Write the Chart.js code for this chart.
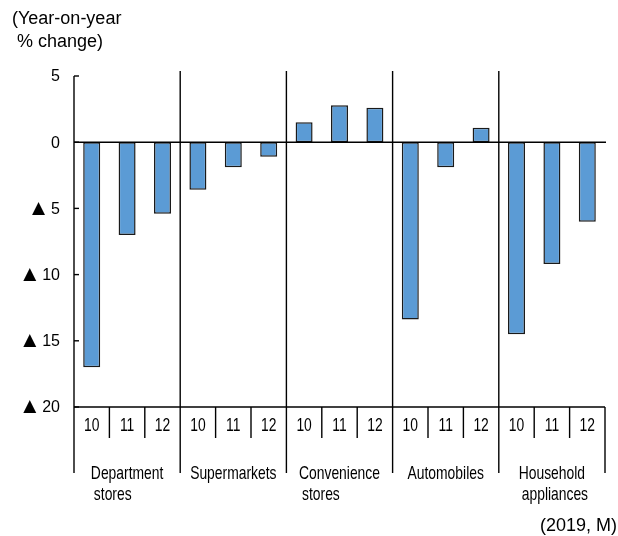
<!DOCTYPE html>
<html>
<head>
<meta charset="utf-8">
<script src="https://cdn.jsdelivr.net/npm/chart.js@4/dist/chart.umd.min.js"></script>
<style>
  html, body { margin: 0; padding: 0; background: #fff; }
  canvas { display: block; }
</style>
</head>
<body>
<canvas id="c" width="618" height="536"></canvas>
<script>
// Sales categories, each shown for three months of 2019
const categories = [['Department', 'stores'], ['Supermarkets'], ['Convenience', 'stores'], ['Automobiles'], ['Household', 'appliances']];
const months = ['10', '11', '12'];

// Year-on-year % change, three months per category
const departmentStores = [-17.0, -7.0, -5.4];
const supermarkets = [-3.6, -1.9, -1.1];
const convenienceStores = [1.5, 2.8, 2.6];
const automobiles = [-13.4, -1.9, 1.1];
const householdAppliances = [-14.5, -9.2, -6.0];

// Value axis ticks; negatives are written with a triangle mark
const yTickValues = [5, 0, -5, -10, -15, -20];
const yTickNumbers = ['5', '0', '5', '10', '15', '20'];
const NEG_MARK = '▲';

const axisTitle = ['(Year-on-year', ' % change)'];
const periodNote = '(2019, M)';

const seriesByCategory = [departmentStores, supermarkets, convenienceStores, automobiles, householdAppliances];
const labels = [];
const values = [];
seriesByCategory.forEach(s => s.forEach((v, i) => { labels.push(months[i]); values.push(v); }));

const REG = '"Liberation Sans", Arial, "DejaVu Sans", sans-serif';
const SQUEEZE = 0.73; // horizontal compression for the condensed category text

// draw text compressed horizontally, anchored like textAlign
function condensedText(ctx, t, px, py, align) {
  const w = ctx.measureText(t).width * SQUEEZE;
  let x0 = px;
  if (align === 'center') x0 = px - w / 2;
  else if (align === 'right') x0 = px - w;
  ctx.save();
  ctx.textAlign = 'left';
  ctx.translate(x0, py);
  ctx.scale(SQUEEZE, 1);
  ctx.fillText(t, 0, 0);
  ctx.restore();
}

const frame = {
  id: 'frame',
  afterDraw(chart) {
    const { ctx, chartArea: a, scales: { x, y } } = chart;
    const line = (x1, y1, x2, y2) => { ctx.beginPath(); ctx.moveTo(x1, y1); ctx.lineTo(x2, y2); ctx.stroke(); };
    ctx.save();
    ctx.strokeStyle = '#000';
    ctx.lineWidth = 1.4;
    ctx.fillStyle = '#000';

    const L = a.left, R = a.right;
    const T = y.getPixelForValue(5), B = y.getPixelForValue(-20), Z = y.getPixelForValue(0);

    // value axis with inward ticks
    line(L, T, L, B);
    ctx.textBaseline = 'middle';
    yTickValues.forEach((v, i) => {
      const py = y.getPixelForValue(v);
      line(L, py, L + 5, py);
      ctx.font = '16px ' + REG;
      ctx.textAlign = 'right';
      const numRight = L - 14;
      ctx.fillText(yTickNumbers[i], numRight, py + 1);
      if (v < 0) {
        const nw = ctx.measureText(yTickNumbers[i]).width;
        ctx.font = '17px "DejaVu Sans", sans-serif';
        ctx.fillText(NEG_MARK, numRight - nw - 6, py);
      }
    });

    // zero line and bottom line
    line(L, Z, R + 1, Z);
    line(L, B, R, B);

    // category boundaries and month ticks
    const step = x.getPixelForValue(1) - x.getPixelForValue(0);
    for (let i = 0; i <= labels.length; i++) {
      const px = i < labels.length ? x.getPixelForValue(i) - step / 2 : x.getPixelForValue(labels.length - 1) + step / 2;
      if (i % 3 === 0) {
        if (i > 0 && i < labels.length) line(px, T - 5, px, B);
        line(px, B, px, B + 66);
      } else {
        line(px, B, px, B + 31);
      }
    }

    // month labels
    ctx.font = '19px ' + REG;
    labels.forEach((m, i) => condensedText(ctx, m, x.getPixelForValue(i), B + 19, 'center'));

    // category labels, left-aligned block centred on the group
    categories.forEach((lines, g) => {
      const c = (x.getPixelForValue(g * 3) + x.getPixelForValue(g * 3 + 2)) / 2;
      const w = Math.max(...lines.map(t => ctx.measureText(t).width)) * SQUEEZE;
      lines.forEach((t, k) => condensedText(ctx, t, c - w / 2 + (k > 0 ? 3 : 0), B + 67 + k * 21, 'left'));
    });

    // period note
    ctx.font = '18px ' + REG;
    ctx.textAlign = 'right';
    ctx.fillText(periodNote, 617, 526);

    // axis title
    ctx.font = '18px ' + REG;
    ctx.textAlign = 'left';
    axisTitle.forEach((t, k) => ctx.fillText(t, 12, 19 + k * 23));
    ctx.restore();
  }
};

new Chart(document.getElementById('c'), {
  type: 'bar',
  data: {
    labels: labels,
    datasets: [{
      data: values,
      backgroundColor: '#5B9BD5',
      borderColor: '#1a1a1a',
      borderWidth: 1.5,
      borderSkipped: false,
      barPercentage: 0.48,
      categoryPercentage: 1.0
    }]
  },
  options: {
    responsive: false,
    animation: false,
    devicePixelRatio: 1,
    layout: { padding: { left: 74, right: 13, top: 76, bottom: 129 } },
    plugins: { legend: { display: false }, tooltip: { enabled: false } },
    scales: {
      x: { display: false },
      y: { display: false, min: -20, max: 5 }
    }
  },
  plugins: [frame]
});
</script>
</body>
</html>
